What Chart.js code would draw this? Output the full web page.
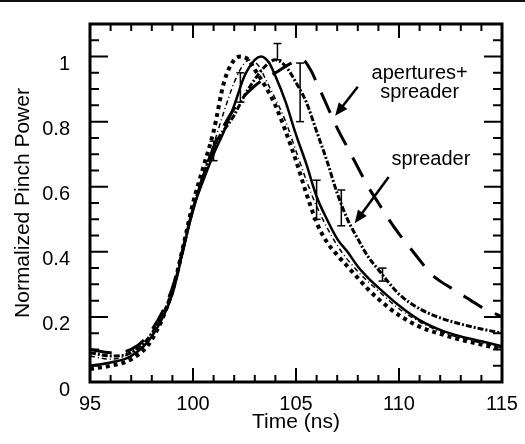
<!DOCTYPE html>
<html>
<head>
<meta charset="utf-8">
<script src="https://cdn.jsdelivr.net/npm/chart.js@4.4.1/dist/chart.umd.min.js"></script>
<style>
  html, body { margin: 0; padding: 0; background: #fff; }
  #wrap { position: relative; width: 525px; height: 444px; }
  #rule { position: absolute; left: 0; top: 0; width: 525px; height: 2px; background: #111; }
</style>
</head>
<body>
<div id="wrap">
  <canvas id="pinchChart" width="525" height="444"></canvas>
  <div id="rule"></div>
</div>
<script>
/* valors llegits de la figura */
const aTime = [95, 96, 97, 98, 99, 99.5, 100, 100.5, 101, 101.5, 102, 102.3, 102.7, 103, 103.5, 104, 104.5, 105, 105.5, 106, 106.5, 107, 107.5, 108, 108.5, 109, 110, 111, 112, 113, 114, 115]
const aPower = [0.04, 0.05, 0.07, 0.13, 0.28, 0.41, 0.55, 0.66, 0.77, 0.92, 0.99, 1.0, 0.99, 0.96, 0.91, 0.85, 0.77, 0.68, 0.58, 0.49, 0.43, 0.39, 0.355, 0.32, 0.285, 0.255, 0.205, 0.17, 0.148, 0.13, 0.115, 0.10]

const bTime = [95, 96, 97, 98, 99, 100, 101, 101.5, 102, 102.5, 102.8, 103.2, 103.6, 104, 104.5, 105, 105.5, 106, 107, 108, 109, 110, 111, 112, 113, 114, 115]
const bPower = [0.08, 0.07, 0.09, 0.15, 0.28, 0.54, 0.73, 0.83, 0.92, 0.98, 0.99, 0.97, 0.92, 0.87, 0.80, 0.71, 0.62, 0.54, 0.42, 0.34, 0.28, 0.225, 0.185, 0.155, 0.135, 0.12, 0.105]

const cTime = [95, 96, 97, 98, 99, 99.5, 100, 100.5, 101, 101.5, 102, 102.5, 103, 103.3, 103.7, 104, 104.5, 105, 105.5, 106, 106.5, 107, 107.5, 108, 108.5, 109, 110, 111, 112, 113, 114, 115]
const cPower = [0.05, 0.06, 0.08, 0.14, 0.27, 0.40, 0.53, 0.62, 0.70, 0.77, 0.85, 0.94, 0.99, 1.0, 0.98, 0.94, 0.86, 0.76, 0.67, 0.57, 0.50, 0.44, 0.40, 0.355, 0.32, 0.29, 0.235, 0.19, 0.16, 0.14, 0.125, 0.11]

const spreaderTime = [95, 96, 97, 98, 99, 100, 101, 102, 102.5, 103, 103.5, 104, 104.5, 105, 105.5, 106, 106.5, 107, 107.5, 108, 108.5, 109, 110, 111, 112, 113, 114, 115]
const spreaderPower = [0.09, 0.08, 0.09, 0.15, 0.28, 0.53, 0.72, 0.82, 0.88, 0.93, 0.97, 0.99, 0.97, 0.92, 0.86, 0.77, 0.68, 0.58, 0.50, 0.44, 0.385, 0.345, 0.27, 0.225, 0.197, 0.178, 0.163, 0.15]

const apertTime = [95, 96, 97, 98, 99, 100, 101, 102, 103, 104, 104.8, 105.3, 105.7, 106, 106.5, 107, 107.5, 108, 108.5, 109, 109.5, 110, 110.5, 111, 111.5, 112, 112.5, 113, 113.5, 114, 114.5, 115]
const apertPower = [0.10, 0.09, 0.10, 0.16, 0.29, 0.53, 0.72, 0.84, 0.91, 0.95, 0.98, 0.99, 0.96, 0.92, 0.85, 0.78, 0.72, 0.66, 0.60, 0.55, 0.50, 0.455, 0.415, 0.375, 0.335, 0.31, 0.29, 0.27, 0.25, 0.23, 0.215, 0.20]

/* barres d'error */
const errTime = [101.0, 102.3, 104.1, 105.2, 106.0, 107.2, 109.2]
const errLow = [0.68, 0.86, 0.99, 0.80, 0.50, 0.48, 0.31]
const errHigh = [0.74, 0.95, 1.04, 0.98, 0.62, 0.59, 0.35]

/* etiquetes amb fletxa: text, posicio del text, inici i punta de la fletxa */
const notes = [
    {lines: ['apertures+', 'spreader'], x: 111.0, y: 0.947, from: [108.0, 0.907], to: [106.9, 0.818]},
    {lines: ['spreader'], x: 111.55, y: 0.683, from: [109.5, 0.63], to: [107.85, 0.488]}
]

const FONT = "'Liberation Sans', Arial, Helvetica, sans-serif"
Chart.defaults.color = '#000'
Chart.defaults.font.family = FONT

const toPoints = (ts, ps) => ts.map((t, i) => ({x: t, y: ps[i]}))

const errPoints = () => {
    const pts = []
    errTime.forEach((t, i) => {
        pts.push({x: t, y: errLow[i]}, {x: t, y: errHigh[i]}, {x: t, y: null})
    })
    return pts
}

const curve = (ts, ps, width, dash) => ({
    data: toPoints(ts, ps),
    borderColor: '#000',
    borderWidth: width,
    borderDash: dash,
    pointRadius: 0,
    cubicInterpolationMode: 'monotone',
    fill: false
})

/* marques cap endins als quatre costats, marc i anotacions */
const framePlugin = {
    id: 'frame',
    afterDraw(chart) {
        const ctx = chart.ctx
        const a = chart.chartArea
        const xs = chart.scales.x
        const ys = chart.scales.y
        ctx.save()
        ctx.strokeStyle = '#000'
        ctx.lineWidth = 2
        xs.ticks.forEach(tk => {
            const px = xs.getPixelForValue(tk.value)
            const len = Math.round(tk.value) % 5 === 0 ? 14 : 7
            ctx.beginPath()
            ctx.moveTo(px, a.bottom); ctx.lineTo(px, a.bottom - len)
            ctx.moveTo(px, a.top); ctx.lineTo(px, a.top + len)
            ctx.stroke()
        })
        ys.ticks.forEach(tk => {
            const py = ys.getPixelForValue(tk.value)
            const len = Math.round(tk.value * 100) % 20 === 0 ? 18 : 9
            ctx.beginPath()
            ctx.moveTo(a.left, py); ctx.lineTo(a.left + len, py)
            ctx.moveTo(a.right, py); ctx.lineTo(a.right - len, py)
            ctx.stroke()
        })
        ctx.lineWidth = 3
        ctx.strokeRect(a.left, a.top, a.right - a.left, a.bottom - a.top)

        ctx.fillStyle = '#000'
        ctx.font = '20px ' + FONT
        ctx.textAlign = 'center'
        ctx.textBaseline = 'middle'
        notes.forEach(n => {
            const tx = xs.getPixelForValue(n.x)
            n.lines.forEach((s, i) => {
                const ty = ys.getPixelForValue(n.y) + i * 19
                ctx.fillText(s, tx, ty)
            })
            const x0 = xs.getPixelForValue(n.from[0]), y0 = ys.getPixelForValue(n.from[1])
            const x1 = xs.getPixelForValue(n.to[0]), y1 = ys.getPixelForValue(n.to[1])
            const ang = Math.atan2(y1 - y0, x1 - x0)
            ctx.lineWidth = 2.5
            ctx.beginPath()
            ctx.moveTo(x0, y0)
            ctx.lineTo(x1 - 8 * Math.cos(ang), y1 - 8 * Math.sin(ang))
            ctx.stroke()
            ctx.beginPath()
            ctx.moveTo(x1, y1)
            ctx.lineTo(x1 - 14 * Math.cos(ang - 0.4), y1 - 14 * Math.sin(ang - 0.4))
            ctx.lineTo(x1 - 14 * Math.cos(ang + 0.4), y1 - 14 * Math.sin(ang + 0.4))
            ctx.closePath()
            ctx.fill()
        })
        ctx.restore()
    }
}

const renderPinchChart = () => {
    const data = {
        datasets: [
            curve(aTime, aPower, 4, [4, 4]),
            curve(bTime, bPower, 1.5, [5, 3, 1, 3]),
            curve(cTime, cPower, 2.5, []),
            curve(spreaderTime, spreaderPower, 3, [6, 2, 2, 2]),
            curve(apertTime, apertPower, 3, [22, 14]),
            {
                data: errPoints(),
                borderColor: '#000',
                borderWidth: 1.5,
                pointStyle: 'line',
                pointRadius: 4,
                pointBorderWidth: 1.5,
                pointBorderColor: '#000',
                spanGaps: false,
                fill: false
            }
        ]
    }

    const options = {
        responsive: false,
        animation: false,
        layout: {padding: {left: 0, right: 23, top: 11, bottom: 0}},
        plugins: {legend: {display: false}, tooltip: {enabled: false}},
        scales: {
            x: {
                type: 'linear',
                min: 95, max: 115,
                afterFit: s => { s.height = 62 },
                grid: {display: false},
                border: {display: false},
                ticks: {
                    stepSize: 1, autoSkip: false, maxRotation: 0, padding: 2,
                    font: {size: 20},
                    callback: v => Math.round(v) % 5 === 0 ? String(v) : ''
                },
                title: {display: true, text: 'Time (ns)', font: {size: 21}, padding: {top: 0, bottom: 9}}
            },
            y: {
                min: 0, max: 1.1,
                afterFit: s => { s.width = 90 },
                grid: {display: false},
                border: {display: false},
                ticks: {
                    stepSize: 0.05, autoSkip: false, padding: 12, labelOffset: 8,
                    font: {size: 20},
                    callback: v => {
                        const k = Math.round(v * 100)
                        if (k % 20 !== 0 || k > 100) return ''
                        return k === 0 ? '0' : k === 100 ? '1' : (k / 100).toFixed(1)
                    }
                },
                title: {display: true, text: 'Normalized Pinch Power', font: {size: 21}, padding: {top: 11, bottom: 0}}
            }
        }
    }

    new Chart('pinchChart', {type: 'line', data, options, plugins: [framePlugin]})
}

renderPinchChart()
</script>
</body>
</html>
